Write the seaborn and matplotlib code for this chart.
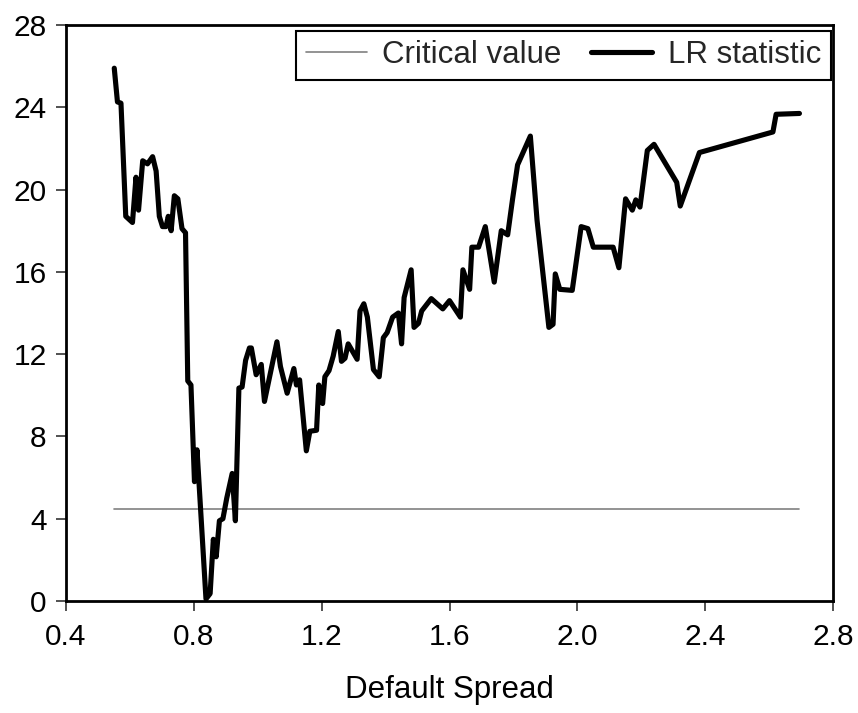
import matplotlib
matplotlib.use('Agg')
import matplotlib.pyplot as plt
import seaborn as sns
import pandas as pd
import numpy as np

# threshold values (default spread) and LR statistic
spread = [0.551, 0.561, 0.572, 0.587, 0.608, 0.619, 0.627, 0.640, 0.655, 0.671,
          0.682, 0.692, 0.702, 0.713, 0.720, 0.729, 0.739, 0.750, 0.763, 0.774,
          0.781, 0.791, 0.802, 0.810, 0.838, 0.851, 0.861, 0.870, 0.880, 0.891,
          0.903, 0.920, 0.930, 0.941, 0.951, 0.962, 0.974, 0.980, 0.995, 1.011,
          1.021, 1.060, 1.071, 1.092, 1.113, 1.121, 1.131, 1.152, 1.163, 1.184,
          1.191, 1.203, 1.210, 1.223, 1.236, 1.252, 1.262, 1.273, 1.283, 1.311,
          1.320, 1.332, 1.343, 1.362, 1.380, 1.393, 1.405, 1.422, 1.440, 1.450,
          1.458, 1.480, 1.489, 1.503, 1.513, 1.543, 1.579, 1.600, 1.634, 1.642,
          1.663, 1.670, 1.691, 1.712, 1.740, 1.762, 1.782, 1.797, 1.813, 1.853,
          1.874, 1.911, 1.924, 1.931, 1.945, 1.984, 2.012, 2.033, 2.050, 2.112,
          2.130, 2.151, 2.172, 2.183, 2.196, 2.219, 2.240, 2.311, 2.322, 2.382,
          2.612, 2.622, 2.695]
lr_stat = [25.9, 24.26, 24.2, 18.7, 18.4, 20.6, 19.0, 21.4, 21.25, 21.6,
           20.9, 18.7, 18.2, 18.2, 18.7, 18.0, 19.7, 19.55, 18.1, 17.9,
           10.7, 10.5, 5.8, 7.35, 0.1, 0.36, 3.0, 2.15, 3.9, 4.0,
           5.0, 6.2, 3.9, 10.35, 10.4, 11.7, 12.3, 12.3, 11.0, 11.5,
           9.7, 12.6, 11.4, 10.1, 11.3, 10.5, 10.75, 7.3, 8.25, 8.3,
           10.5, 9.6, 10.9, 11.2, 11.9, 13.1, 11.65, 11.8, 12.5, 11.75,
           14.1, 14.45, 13.8, 11.25, 10.9, 12.8, 13.05, 13.8, 14.0, 12.5,
           14.75, 16.1, 13.3, 13.5, 14.1, 14.7, 14.2, 14.6, 13.8, 16.1,
           15.15, 17.2, 17.2, 18.2, 15.5, 18.0, 17.8, 19.5, 21.2, 22.6,
           18.5, 13.3, 13.45, 15.9, 15.15, 15.1, 18.2, 18.1, 17.2, 17.2,
           16.2, 19.55, 19.0, 19.5, 19.15, 21.9, 22.2, 20.35, 19.2, 21.8,
           22.8, 23.66, 23.7]
critical_value = 4.45

xtick_labels = ['0.4', '0.8', '1.2', '1.6', '2.0', '2.4', '2.8']

lr_df = pd.DataFrame({'spread': spread, 'lr': lr_stat})
cv_df = pd.DataFrame({'spread': [spread[0], spread[-1]],
                      'cv': [critical_value, critical_value]})

sns.set_style('ticks')
plt.rcParams['font.family'] = ['Liberation Sans', 'DejaVu Sans']

fig = plt.figure(figsize=(8.58, 7.13), dpi=100)
ax = fig.add_axes([66 / 858, 1 - 601 / 713, 767 / 858, 576 / 713])

sns.lineplot(data=cv_df, x='spread', y='cv', color='#808080', linewidth=1.2,
             label='Critical value', ax=ax)
sns.lineplot(data=lr_df, x='spread', y='lr', color='black', linewidth=3.7,
             sort=False, label='LR statistic', ax=ax)

ax.set_xlim(0.4, 2.8)
ax.set_ylim(0, 28)
ax.set_xticks([float(t) for t in xtick_labels])
ax.set_xticklabels(xtick_labels)
ax.set_yticks(range(0, 29, 4))
ax.tick_params(labelsize=21.5, length=7, width=1.2, color='#333333',
               labelcolor='black')
ax.tick_params(axis='x', pad=9)
ax.tick_params(axis='y', pad=7)
ax.set_xlabel('Default Spread', fontsize=22.5, labelpad=17, color='black')
ax.set_ylabel('')
for s in ax.spines.values():
    s.set_visible(True)
    s.set_linewidth(2)
    s.set_color('black')

leg = ax.legend(loc='upper right', bbox_to_anchor=(0.997, 0.99), ncol=2,
                fontsize=22.5, frameon=True, fancybox=False, edgecolor='black',
                handlelength=1.95, columnspacing=0.95, borderaxespad=0,
                handletextpad=0.5, borderpad=0.3)
leg.get_frame().set_linewidth(1.5)
leg.get_frame().set_alpha(1)

fig.savefig('out.png', dpi=100)
